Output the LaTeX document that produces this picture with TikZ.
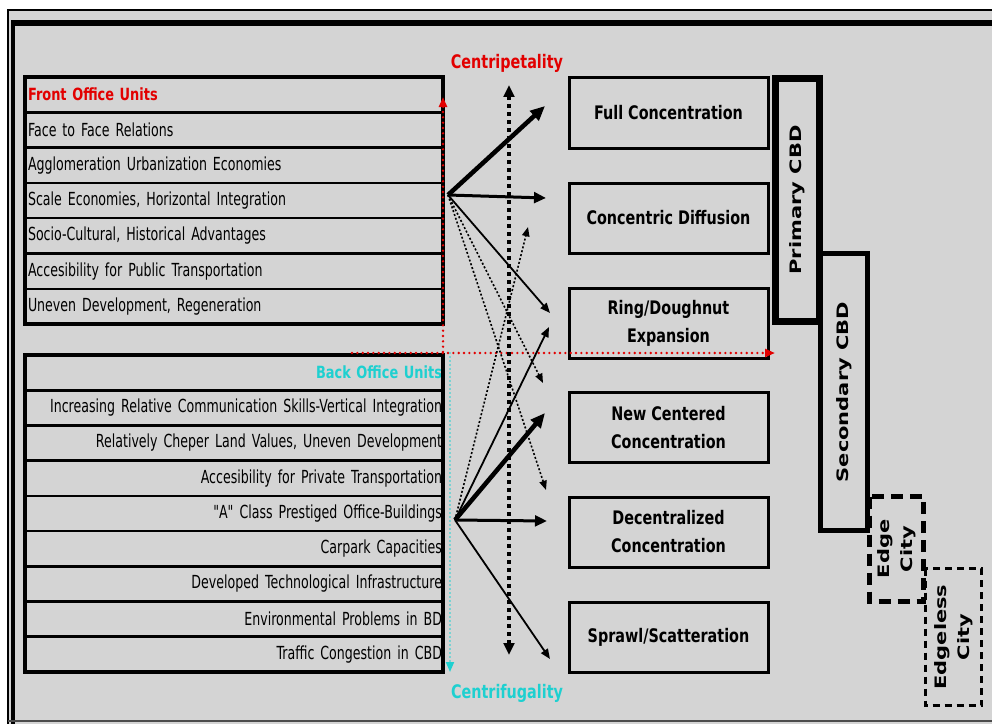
\documentclass[tikz,border=0pt]{standalone}
\usepackage{fontspec}
\usetikzlibrary{arrows.meta}

% condensed faces for horizontal labels, widened face for the upright column labels
\newfontfamily\rowfont[FakeStretch=0.70]{DejaVu Sans}
\newfontfamily\labfont[FakeStretch=0.77]{DejaVu Sans}
\newfontfamily\rotfont[FakeStretch=1.333]{DejaVu Sans}

\definecolor{panel}{RGB}{212,212,212}
\definecolor{pullred}{RGB}{226,0,0}
\definecolor{pushcyan}{RGB}{30,208,208}

\begin{document}
\begin{tikzpicture}[x=0.75pt, y=-0.75pt,
  frontrow/.style={draw, line width=1.875pt, text width=309pt, inner xsep=2.25pt,
    inner ysep=0pt, minimum height=26.475pt, align=left,
    font=\rowfont\fontsize{13.5}{15}\selectfont},
  backrow/.style={frontrow, align=right, text width=312pt, inner xsep=0.75pt},
  headrow/.style={font=\labfont\bfseries\fontsize{12.6}{15}\selectfont},
  outcome/.style={draw, line width=2.25pt, minimum width=149.25pt, minimum height=52.5pt,
    inner sep=0pt, align=center, font=\labfont\bfseries\fontsize{14}{21}\selectfont},
  cbd/.style={draw, rotate=90, inner sep=0pt, align=center,
    font=\rotfont\bfseries\fontsize{11.8}{17.25}\selectfont},
  axislabel/.style={font=\labfont\bfseries\fontsize{14}{16}\selectfont},
  heavyarrow/.style={line width=3.4pt, -{Triangle[length=11pt,width=9.5pt]}},
  midarrow/.style={line width=2.25pt, -{Triangle[length=9pt,width=8pt]}},
  thinarrow/.style={line width=1.35pt, -{Triangle[length=7.5pt,width=6pt]}},
  dotarrow/.style={line width=1.2pt, dash pattern=on 1.5pt off 1.5pt,
    -{Triangle[length=7pt,width=5.5pt]}},
  reddots/.style={pullred, line width=2pt, line cap=round, dash pattern=on 0pt off 4pt,
    -{Triangle[length=7.5pt,width=6pt]}},
  cyandots/.style={pushcyan, line width=1.4pt, line cap=round, dash pattern=on 0pt off 3pt,
    -{Triangle[length=7.5pt,width=6pt]}}
]
\useasboundingbox (0,0) rectangle (992,724);

% page and double frame
\fill[white] (0,0) rectangle (992,724);
\fill[panel] (8,10) rectangle (992,724);
\draw[line width=1.125pt] (992,10) -- (8,10) -- (8,724);
\draw[line width=4.5pt] (11,23.5) -- (992,23.5);
\draw[line width=3pt] (13,20.5) -- (13,724);
\draw[line width=0.9pt, black!70] (8,721) -- (992,721);

% front office factors
\node[frontrow, headrow, text=pullred] (f0) at (234,94.65) {Front Office Units};
\node[frontrow] (f1) at (234,129.95) {Face to Face Relations};
\node[frontrow] (f2) at (234,165.25) {Agglomeration Urbanization Economies};
\node[frontrow] (f3) at (234,200.55) {Scale Economies, Horizontal Integration};
\node[frontrow] (f4) at (234,235.85) {Socio-Cultural, Historical Advantages};
\node[frontrow] (f5) at (234,271.15) {Accesibility for Public Transportation};
\node[frontrow] (f6) at (234,306.45) {Uneven Development, Regeneration};
\draw[line width=3pt] (25,77) rectangle (443,324);

% back office factors
\node[backrow, headrow, text=pushcyan] (b0) at (234,372.6) {Back Office Units};
\node[backrow] (b1) at (234,407.8) {Increasing Relative Communication Skills-Vertical Integration};
\node[backrow] (b2) at (234,443.0) {Relatively Cheper Land Values, Uneven Development};
\node[backrow] (b3) at (234,478.2) {Accesibility for Private Transportation};
\node[backrow] (b4) at (234,513.4) {"A" Class Prestiged Office-Buildings};
\node[backrow] (b5) at (234,548.6) {Carpark Capacities};
\node[backrow] (b6) at (234,583.8) {Developed Technological Infrastructure};
\node[backrow] (b7) at (234,619.0) {Environmental Problems in BD};
\node[backrow] (b8) at (234,654.2) {Traffic Congestion in CBD};
\draw[line width=3pt] (25,355) rectangle (443,672);

% spatial outcomes
\node[outcome] (full)   at (668.5,113)   {Full Concentration};
\node[outcome] (concd)  at (668.5,218)   {Concentric Diffusion};
\node[outcome] (ring)   at (668.5,323)   {Ring/Doughnut\\Expansion};
\node[outcome] (newc)   at (668.5,427.5) {New Centered\\Concentration};
\node[outcome] (decc)   at (668.5,532)   {Decentralized\\Concentration};
\node[outcome] (sprawl) at (668.5,637.5) {Sprawl/Scatteration};

% urban forms, stepping down and outwards
\node[cbd, line width=3.75pt, minimum width=207.75pt, minimum height=35.25pt]
  (second) at (844,392) {Secondary CBD};
\node[cbd, line width=5.25pt, minimum width=182.25pt, minimum height=33pt]
  (primary) at (797.5,200) {Primary CBD};
\node[cbd, line width=3.75pt, dash pattern=on 9pt off 5.25pt,
  minimum width=78.75pt, minimum height=40.5pt]
  (edge) at (896.5,549) {Edge\\City};
\node[cbd, line width=2.25pt, dash pattern=on 5.25pt off 3.75pt,
  minimum width=102.75pt, minimum height=42pt]
  (edgeless) at (953.5,637) {Edgeless\\City};

% centripetal / centrifugal axes
\node[axislabel, text=pullred]  (cpet) at (507,63)  {Centripetality};
\node[axislabel, text=pushcyan] (cfug) at (507,693) {Centrifugality};

\coordinate (redLow)  at (443,352);
\coordinate (redTop)  at (443,97);
\coordinate (redLeft) at (352,353);
\coordinate (redEnd)  at (775,353);
\coordinate (cyTop)   at (450,353);
\coordinate (cyEnd)   at (450,672);
\coordinate (axTop)   at (509,85);
\coordinate (axBot)   at (509,655);

\draw[reddots] (redLow) -- (redTop);
\draw[reddots] (redLeft) -- (redEnd);
\draw[cyandots] (cyTop) -- (cyEnd);
\draw[line width=2.6pt, dash pattern=on 3pt off 3pt,
  {Triangle[length=9pt,width=8pt]}-{Triangle[length=9pt,width=8pt]}] (axBot) -- (axTop);

% influences of the two factor groups
\coordinate (A) at (448,195);
\coordinate (B) at (455,520);
\coordinate (tFull)   at (545,106);
\coordinate (tConc)   at (546,198);
\coordinate (tRingA)  at (550,313);
\coordinate (tNewA)   at (543,383);
\coordinate (tDecA)   at (546,490);
\coordinate (tConcB)  at (528,227);
\coordinate (tRingB)  at (549,327);
\coordinate (tNew)    at (545,413);
\coordinate (tDec)    at (547,521);
\coordinate (tSprawl) at (550,659);

\draw[heavyarrow] (A) -- (tFull);
\draw[midarrow]   (A) -- (tConc);
\draw[thinarrow]  (A) -- (tRingA);
\draw[dotarrow]   (A) -- (tNewA);
\draw[dotarrow]   (A) -- (tDecA);
\draw[dotarrow]   (B) -- (tConcB);
\draw[thinarrow]  (B) -- (tRingB);
\draw[heavyarrow] (B) -- (tNew);
\draw[midarrow]   (B) -- (tDec);
\draw[thinarrow]  (B) -- (tSprawl);
\end{tikzpicture}
\end{document}
